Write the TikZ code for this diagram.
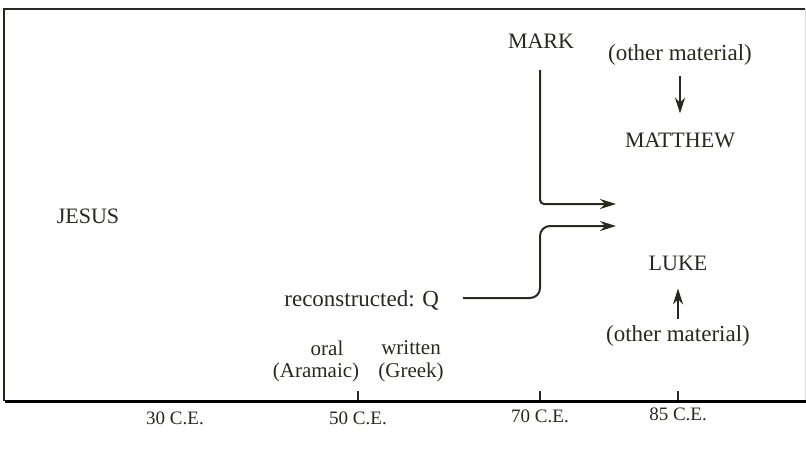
\documentclass[tikz,border=0pt]{standalone}
\usepackage{fontspec}
\setmainfont{Liberation Serif}
\usetikzlibrary{arrows.meta}
\definecolor{ink}{RGB}{40,40,30}
\tikzset{
    book/.style={text=ink,font=\fontsize{11}{13}\selectfont},
    note/.style={text=ink,font=\fontsize{11.5}{13}\selectfont},
    date/.style={text=ink,font=\fontsize{9.5}{11}\selectfont},
    lang/.style={text=ink,font=\fontsize{10.5}{12}\selectfont},
    link/.style={draw=ink,line width=1pt,-{Stealth[length=8pt,width=5pt]}}
}
\begin{document}
\begin{tikzpicture}[x=0.5pt,y=-0.5pt]
    \useasboundingbox (0,0) rectangle (806,456);

    % Draw frame and time axis
    \draw [ink,line width=1pt] (4,401) -- (4,9) -- (805,9);
    \draw [black!15,line width=0.5pt] (805,9) -- (805,401);
    \draw [black,line width=1.5pt] (5,401) -- (806,401);
    \foreach \x in {358,540,678}
        \draw [ink,line width=0.7pt] (\x,391) -- (\x,400);

    % Dates
    \node (c30) [date] at (175,418) {30 C.E.};
    \node (c50) [date] at (358,418) {50 C.E.};
    \node (c70) [date] at (540,416) {70 C.E.};
    \node (c85) [date] at (678,414) {85 C.E.};

    % Gospels
    \node (jesus) [book] at (88,216) {JESUS};
    \node (mark) [book] at (541,41) {MARK};
    \node (matthew) [book] at (680,140) {MATTHEW};
    \node (luke) [book] at (678,263) {LUKE};
    \node (q) [note,anchor=east] at (446,300) {reconstructed: Q};

    \node (othertop) [note] at (680,55) {(other material)};
    \node (otherbot) [note] at (678,336) {(other material)};

    \node (oral) [lang] at (327,348) {oral};
    \node (written) [lang] at (411,348) {written};
    \node (aramaic) [lang] at (316,372) {(Aramaic)};
    \node (greek) [lang] at (411,372) {(Greek)};

    % Sources
    \coordinate (tomatt) at (616,204);
    \coordinate (toluke) at (616,226);
    \draw [link,rounded corners=2pt] (540,70) -- (540,204) -- (tomatt);
    \draw [link,rounded corners=5pt] (463,298) -- (540,298) -- (540,226) -- (toluke);
    \draw [link] ([yshift=-2pt]othertop.south) -- ([yshift=6pt]matthew.north);
    \draw [link] (otherbot.north) -- ([yshift=-5.5pt]luke.south);

\end{tikzpicture}
\end{document}
